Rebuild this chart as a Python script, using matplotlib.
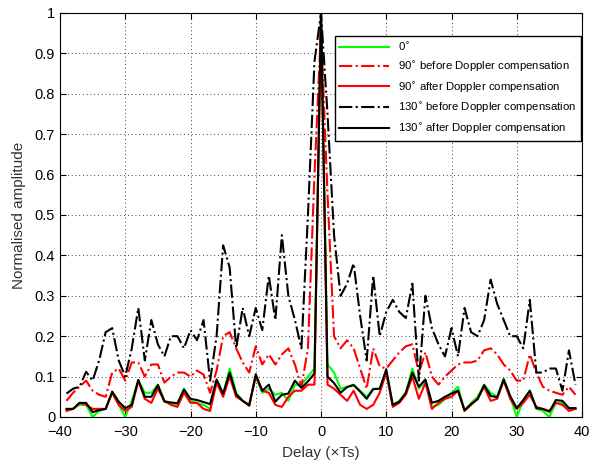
import numpy as np
import matplotlib
matplotlib.use("Agg")
import matplotlib.pyplot as plt

plt.rcParams["font.family"] = ["Liberation Sans", "DejaVu Sans"]

# Delay axis (xTs)
delay = np.arange(-39, 40)

# 0 deg
g0 = [0.02, 0.02, 0.03, 0.03, 0.0, 0.015, 0.02, 0.06, 0.03, 0.0,
      0.04, 0.09, 0.06, 0.06, 0.08, 0.04, 0.035, 0.03, 0.07, 0.04,
      0.035, 0.03, 0.02, 0.09, 0.055, 0.12, 0.06, 0.04, 0.03, 0.1,
      0.06, 0.07, 0.055, 0.06, 0.04, 0.08, 0.08, 0.1, 0.12, 1.0,
      0.13, 0.11, 0.07, 0.075, 0.08, 0.065, 0.05, 0.07, 0.07, 0.11,
      0.03, 0.04, 0.06, 0.12, 0.07, 0.09, 0.025, 0.03, 0.045, 0.06,
      0.075, 0.015, 0.035, 0.05, 0.08, 0.06, 0.05, 0.095, 0.05, 0.0,
      0.04, 0.065, 0.02, 0.015, 0.0, 0.035, 0.035, 0.02, 0.02]

# 90 deg before Doppler compensation
r90_before = [0.04, 0.06, 0.075, 0.09, 0.065, 0.055, 0.05, 0.11, 0.12, 0.09,
              0.135, 0.135, 0.1, 0.13, 0.13, 0.085, 0.1, 0.11, 0.11, 0.1,
              0.115, 0.105, 0.06, 0.115, 0.2, 0.21, 0.17, 0.135, 0.11, 0.175,
              0.13, 0.155, 0.13, 0.155, 0.17, 0.13, 0.075, 0.17, 0.6, 0.96,
              0.55, 0.2, 0.17, 0.19, 0.17, 0.12, 0.07, 0.17, 0.125, 0.12,
              0.14, 0.16, 0.175, 0.18, 0.11, 0.16, 0.1, 0.08, 0.1, 0.115,
              0.13, 0.135, 0.135, 0.14, 0.165, 0.17, 0.155, 0.13, 0.115, 0.09,
              0.09, 0.155, 0.11, 0.075, 0.065, 0.06, 0.055, 0.075, 0.055]

# 90 deg after Doppler compensation
r90_after = [0.015, 0.02, 0.035, 0.03, 0.02, 0.02, 0.02, 0.06, 0.03, 0.015,
             0.025, 0.09, 0.045, 0.035, 0.07, 0.04, 0.03, 0.025, 0.06, 0.035,
             0.035, 0.02, 0.015, 0.085, 0.05, 0.1, 0.05, 0.04, 0.03, 0.1,
             0.065, 0.06, 0.03, 0.025, 0.05, 0.065, 0.065, 0.08, 0.08, 1.0,
             0.08, 0.07, 0.055, 0.04, 0.065, 0.03, 0.02, 0.03, 0.06, 0.11,
             0.025, 0.035, 0.055, 0.1, 0.045, 0.085, 0.02, 0.035, 0.045, 0.05,
             0.065, 0.015, 0.03, 0.045, 0.075, 0.04, 0.045, 0.09, 0.045, 0.02,
             0.035, 0.055, 0.025, 0.02, 0.015, 0.035, 0.03, 0.015, 0.02]

# 130 deg before Doppler compensation
k130_before = [0.058, 0.07, 0.075, 0.112, 0.09, 0.14, 0.21, 0.22, 0.14, 0.1,
               0.17, 0.27, 0.14, 0.24, 0.18, 0.15, 0.2, 0.2, 0.17, 0.215,
               0.19, 0.24, 0.09, 0.2, 0.425, 0.37, 0.17, 0.27, 0.2, 0.27,
               0.215, 0.35, 0.24, 0.45, 0.3, 0.24, 0.17, 0.5, 0.88, 1.0,
               0.75, 0.45, 0.3, 0.33, 0.38, 0.25, 0.14, 0.35, 0.2, 0.26,
               0.29, 0.26, 0.245, 0.33, 0.09, 0.3, 0.22, 0.18, 0.15, 0.22,
               0.15, 0.27, 0.21, 0.2, 0.24, 0.34, 0.28, 0.24, 0.2, 0.2,
               0.17, 0.29, 0.11, 0.11, 0.12, 0.12, 0.065, 0.165, 0.08]

# 130 deg after Doppler compensation
k130_after = [0.02, 0.02, 0.035, 0.035, 0.012, 0.017, 0.02, 0.063, 0.038, 0.022,
              0.03, 0.092, 0.05, 0.05, 0.079, 0.038, 0.036, 0.034, 0.068, 0.045,
              0.042, 0.037, 0.032, 0.093, 0.058, 0.11, 0.056, 0.04, 0.028, 0.106,
              0.065, 0.08, 0.038, 0.055, 0.058, 0.09, 0.072, 0.088, 0.108, 1.0,
              0.1, 0.084, 0.06, 0.074, 0.079, 0.063, 0.045, 0.069, 0.07, 0.118,
              0.03, 0.038, 0.06, 0.11, 0.075, 0.093, 0.035, 0.04, 0.05, 0.058,
              0.065, 0.017, 0.032, 0.044, 0.079, 0.052, 0.049, 0.093, 0.052, 0.022,
              0.042, 0.065, 0.022, 0.02, 0.013, 0.042, 0.04, 0.022, 0.022]

fig = plt.figure(figsize=(5.89, 4.66), dpi=100)
ax = fig.add_axes([60 / 589, 49 / 466, 522 / 589, 404 / 466])

lw = 1.5
ax.plot(delay, g0, color="#00ff00", lw=lw, label="0$^{\\circ}$")
ax.plot(delay, r90_before, color="red", ls="-.", lw=lw,
        label="90$^{\\circ}$ before Doppler compensation")
ax.plot(delay, r90_after, color="red", lw=lw,
        label="90$^{\\circ}$ after Doppler compensation")
ax.plot(delay, k130_before, color="black", ls="-.", lw=lw,
        label="130$^{\\circ}$ before Doppler compensation")
ax.plot(delay, k130_after, color="black", lw=lw,
        label="130$^{\\circ}$ after Doppler compensation")

ax.set_xlim(-40, 40)
ax.set_ylim(0, 1)
ax.set_xticks(np.arange(-40, 41, 10))
ax.set_yticks(np.arange(0, 1.01, 0.1))
ax.set_yticklabels(["0", "0.1", "0.2", "0.3", "0.4", "0.5", "0.6", "0.7", "0.8", "0.9", "1"])
ax.tick_params(direction="in", top=True, right=True, labelsize=10.5, length=4)
ax.tick_params(axis="x", pad=6)
ax.grid(True, color="black", ls=(0, (1, 3.5)), lw=0.6)
for s in ax.spines.values():
    s.set_linewidth(0.8)

ax.set_xlabel("Delay (\u00d7Ts)", fontsize=11, color="#333333", labelpad=5)
ax.set_ylabel("Normalised amplitude", fontsize=11, color="#333333", labelpad=6)

leg = ax.legend(loc="upper right", bbox_to_anchor=(0.998, 0.943), borderaxespad=0,
                fontsize=8.2, handlelength=4.4, labelspacing=0.6,
                fancybox=False, framealpha=1, edgecolor="black")
leg.get_frame().set_linewidth(1.0)

fig.savefig("out.png", dpi=100)
